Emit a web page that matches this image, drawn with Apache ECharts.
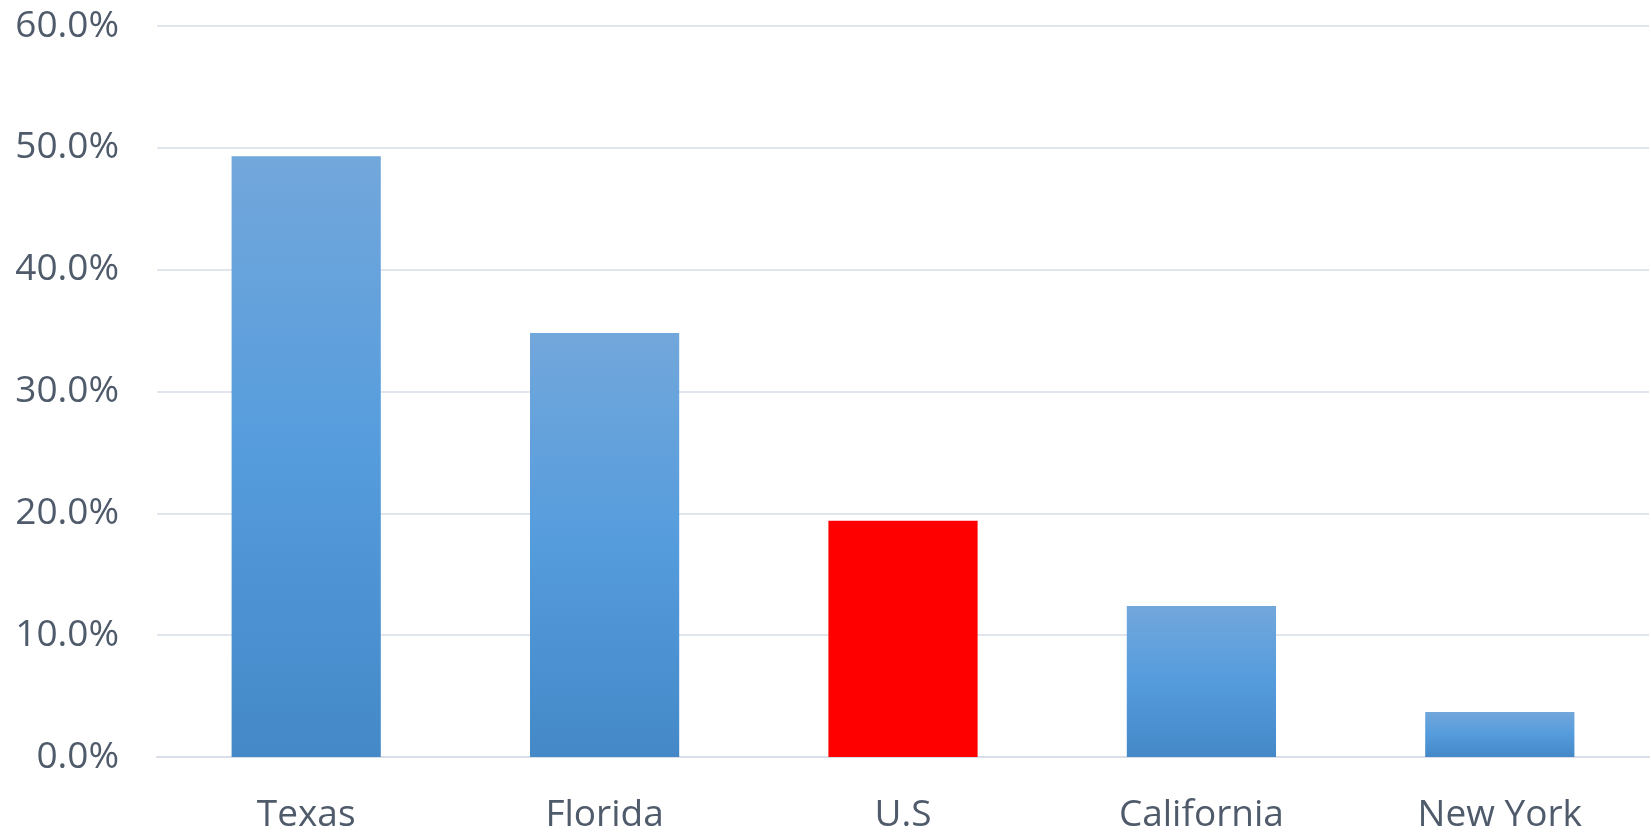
<!DOCTYPE html>
<html>
<head>
<meta charset="utf-8">
<script src="https://cdn.jsdelivr.net/npm/echarts@6/dist/echarts.min.js"></script>
<style>
  html, body { margin: 0; padding: 0; background: #fff; }
  #chart { width: 1651px; height: 834px; }
</style>
</head>
<body>
<div id="chart"></div>
<script>
var states = ['Texas', 'Florida', 'U.S', 'California', 'New York'];
var shares = [49.3, 34.8, 19.4, 12.4, 3.7];
var highlight = 'U.S';
var yTicks = [0, 10, 20, 30, 40, 50, 60];

var blueFill = new echarts.graphic.LinearGradient(0, 0, 0, 1, [
    { offset: 0, color: '#72A7DB' },
    { offset: 0.5, color: '#559CDD' },
    { offset: 1, color: '#4488C7' }
]);

var barData = states.map((s, i) => ({
    value: shares[i],
    itemStyle: { color: s === highlight ? '#FF0000' : blueFill }
}));

var textColor = '#4F5B6B';
var fontFam = '"Open Sans", "Noto Sans", sans-serif';

var chart = echarts.init(document.getElementById('chart'));
chart.setOption({
    animation: false,
    grid: { left: 157, right: 2, top: 26, bottom: 76 },
    xAxis: {
        type: 'category',
        data: states,
        axisTick: { show: false },
        axisLine: { lineStyle: { color: '#D9DEE8', width: 2 } },
        axisLabel: { color: textColor, fontSize: 37, fontFamily: fontFam, margin: 40 }
    },
    yAxis: {
        type: 'value',
        min: yTicks[0],
        max: yTicks[yTicks.length - 1],
        interval: 10,
        axisLine: { show: false },
        axisTick: { show: false },
        splitLine: { lineStyle: { color: '#E1E5EE', width: 2 } },
        axisLabel: {
            color: textColor, fontSize: 37, fontFamily: fontFam, margin: 38,
            formatter: (v) => v.toFixed(1) + '%'
        }
    },
    series: [{
        type: 'bar',
        data: barData,
        barWidth: '50%',
        silent: true
    }]
});
</script>
</body>
</html>
